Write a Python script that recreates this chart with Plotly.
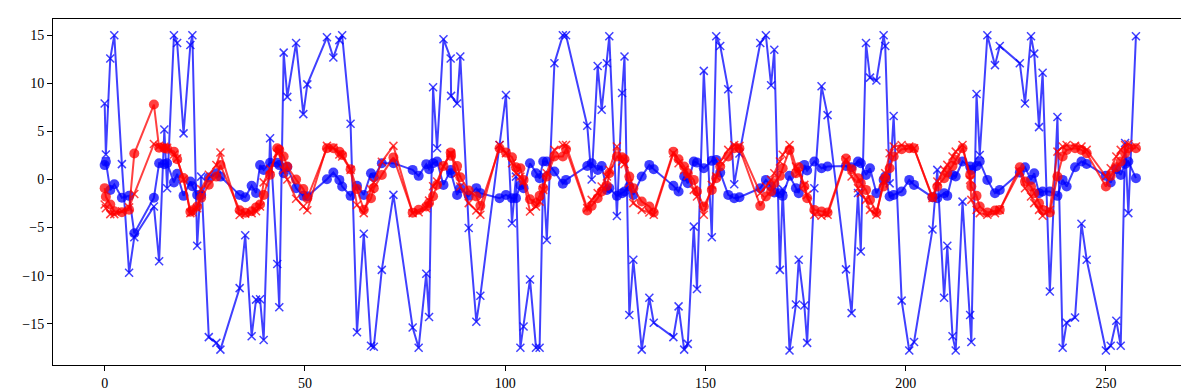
import plotly.graph_objects as go

x = [0.0, 0.3, 1.4, 2.4, 4.3, 6.1, 7.4, 12.3, 13.6, 14.9, 15.6, 17.3, 18.1, 19.7, 21.4, 21.9, 23.1, 24.1, 26.0, 27.9,
     28.9, 33.7, 35.1, 36.7, 37.8, 38.8, 39.7, 41.3, 43.1, 43.6, 44.7, 45.6, 47.8, 49.6, 50.6, 55.5, 57.1, 58.6, 59.3, 61.4,
     63.0, 64.7, 66.5, 67.2, 69.2, 72.1, 76.9, 78.4, 80.3, 81.0, 82.0, 83.0, 84.6, 86.4, 86.5, 88.0, 88.8, 90.9, 92.8, 93.8,
     98.6, 100.2, 101.7, 102.7, 103.8, 104.6, 106.2, 107.7, 108.6, 109.5, 110.4, 112.3, 114.4, 115.2, 120.5, 121.6, 123.1, 124.1, 125.4, 126.0,
     127.9, 129.2, 129.8, 131.0, 132.0, 134.1, 136.0, 137.1, 142.0, 143.3, 144.7, 145.6, 147.1, 147.9, 149.6, 151.6, 152.7, 153.7, 155.7, 157.2,
     158.5, 163.7, 165.1, 166.4, 167.2, 168.6, 169.3, 171.0, 172.6, 173.3, 174.7, 175.4, 177.2, 179.0, 180.5, 185.1, 186.5, 188.1, 188.8, 190.1,
     191.1, 192.7, 194.5, 194.9, 196.0, 197.0, 199.0, 200.9, 202.1, 206.7, 207.9, 209.6, 210.4, 211.7, 212.5, 214.2, 216.1, 216.4, 217.7, 218.5,
     220.4, 222.3, 223.5, 228.5, 229.8, 231.3, 232.1, 233.3, 234.2, 236.0, 237.9, 239.2, 240.2, 242.3, 243.9, 245.2, 250.0, 251.2, 252.6, 253.7,
     254.8, 255.6, 257.5]

blue_x = [7.9, 2.6, 12.6, 15.0, 1.6, -9.7, -6.0, -2.8, -8.5, 5.2, -0.9, 15.0, 14.2, 4.8, 14.0, 15.0, -6.9, 0.3, -16.4, -17.0,
          -17.7, -11.3, -5.8, -16.3, -12.5, -12.45, -16.7, 4.3, -8.8, -13.3, 13.2, 8.6, 14.2, 6.8, 9.9, 14.8, 12.7, 14.5, 15.0, 5.8,
          -15.9, -5.65, -17.3, -17.4, -9.4, -1.6, -15.4, -17.5, -9.8, -14.3, 9.6, 3.25, 14.6, 12.6, 8.7, 7.9, 12.8, -5.05, -14.8, -12.1,
          3.6, 8.8, -4.55, 0.3, -17.5, -15.3, -10.4, -17.5, -17.5, 0.5, -6.3, 12.1, 15.0, 15.0, 5.6, 0.0, 11.8, 7.25, 12.1, 14.9,
          -3.8, 9.0, 12.8, -14.1, -8.35, -17.7, -12.3, -14.9, -16.4, -13.2, -17.7, -17.1, -4.9, -11.4, 11.3, -6.0, 14.9, 13.9, 9.4, -0.5,
          2.7, 14.2, 15.0, 9.8, 13.5, -9.4, -1.0, -17.8, -13.0, -8.35, -13.1, -17.0, -0.9, 9.7, 6.7, -9.35, -13.9, -1.4, -7.5, 14.2,
          10.6, 10.3, 15.0, 13.9, -0.4, 6.6, -12.6, -17.8, -16.9, -5.2, 1.0, -12.3, -6.9, -16.3, -17.8, -2.3, -14.1, -16.9, 8.9, 2.55,
          15.0, 11.9, 13.9, 12.1, 7.9, 14.9, 13.1, 5.45, 11.1, -11.65, 6.5, -17.5, -14.9, -14.35, -4.6, -8.35, -17.8, -17.3, -14.7, -17.3,
          3.8, -3.5, 14.9]

blue_o = [1.5, 1.85, -1.1, -0.5, -1.9, -1.7, -5.6, -1.9, 1.7, 1.6, 1.7, -0.3, 0.6, -1.7, -0.2, -0.7, -1.6, -1.6, 0.2, 0.65,
          0.3, -1.6, -1.85, -0.65, -1.4, 1.5, 1.0, 1.75, 1.75, 1.5, 0.65, 1.3, -0.9, -1.7, -1.75, 0.03, 0.72, -0.04, -0.73, -1.7,
          -0.65, -1.6, 0.65, 0.24, 1.7, 1.7, 1.0, 0.38, 1.6, 1.07, 1.7, 1.87, -0.56, 1.0, 0.65, -1.6, -0.9, -1.7, -0.9, -1.42,
          -1.94, -1.6, -1.94, -1.94, -0.6, -0.9, 1.7, 0.65, 0.14, 1.87, 1.87, 0.83, -0.45, -0.04, 1.41, 1.7, 1.0, 1.41, -1.08, -0.9,
          -1.7, -1.42, -1.25, -0.73, -1.6, 0.31, 1.52, 1.07, -0.66, -1.25, 0.31, -0.38, 1.87, 1.76, 1.17, 1.94, 2.04, 0.72, -1.6, -1.94,
          -1.84, -0.9, -0.04, -0.73, -1.35, -1.42, -1.7, 0.38, -0.9, -1.42, 1.52, 0.93, 1.87, 1.17, 1.35, 1.41, 1.28, 1.87, 1.7, 0.48,
          1.17, -1.42, -0.04, 0.31, -1.77, -1.6, -1.25, -0.04, -0.56, -1.84, -1.94, -1.42, -1.7, 0.48, 0.31, 1.87, 1.35, 1.0, 1.41, 1.87,
          -0.04, -1.42, -1.08, 0.72, 1.28, -0.04, 0.65, -1.42, -1.25, -1.25, -1.7, -0.04, -0.73, 1.28, 1.87, 1.62, 0.38, -0.32, 1.07, 0.48,
          1.62, 1.87, 0.14]

red_o = [-0.9, -1.8, -2.6, -3.3, -3.4, -3.15, 2.7, 7.8, 3.3, 3.25, 3.2, 2.9, 2.1, 0.15, -3.35, -3.2, -2.8, -1.9, -0.55, 0.3,
         1.5, -3.2, -3.45, -3.3, -2.9, -2.6, -1.6, 0.5, 3.25, 3.1, 2.4, 1.35, 0.0, -1.0, -1.95, 3.25, 3.25, 2.9, 2.55, 1.07,
         -1.0, -3.15, -1.95, -0.9, 0.48, 2.3, -3.45, -3.15, -2.8, -2.45, -1.75, -0.55, 1.41, 2.8, 2.46, 1.41, 0.24, -1.15, -1.77, -2.74,
         3.25, 2.8, 2.32, 1.28, 1.17, -0.04, -2.05, -2.46, -1.7, -0.9, 0.31, 2.39, 2.39, 3.15, -3.22, -2.74, -1.94, -1.25, -0.66, 0.65,
         2.39, 2.32, 2.1, 0.31, -0.9, -2.29, -2.81, -3.43, 2.9, 2.11, 1.35, 0.65, -0.04, -1.25, -2.81, -1.08, 0.14, 1.35, 2.39, 3.25,
         3.25, -2.74, -1.77, -1.25, -0.38, 0.38, 1.17, 3.08, 0.65, 1.28, -0.73, -1.94, -3.16, -3.33, -3.43, 2.18, 1.07, 0.14, -0.38, -1.08,
         -2.12, -3.43, -0.73, 0.14, 1.17, 2.39, 3.15, 3.25, 3.25, -1.84, -0.73, 0.14, 0.72, 1.41, 2.04, 3.25, 0.48, -0.73, -1.7, -2.81,
         -3.43, -3.22, -3.16, 1.28, -0.21, -0.73, -1.42, -2.46, -3.16, -3.43, 0.31, 2.39, 3.08, 3.25, 3.08, 2.73, -0.73, 0.38, 1.28, 1.87,
         2.73, 3.25, 3.25]

red_x = [-2.6, -3.0, -3.6, -3.6, -3.3, -2.9, -1.5, 3.7, 3.5, 3.4, 3.3, 2.6, 2.2, 0.0, -3.5, -3.4, -3.0, -1.0, 0.5, 1.5,
         2.8, -3.7, -3.55, -3.5, -3.3, -2.8, -0.3, 1.1, 2.7, 2.9, 1.0, 0.0, -2.0, -2.8, -3.2, 3.5, 3.3, 2.6, 2.4, 1.0,
         -2.65, -3.5, -1.0, -0.3, 1.85, 3.5, -3.5, -3.4, -3.0, -2.2, -0.7, -0.2, 1.35, 2.74, 2.6, 0.65, -0.73, -2.46, -3.22, -3.67,
         3.6, 2.74, 1.7, 0.65, 0.3, -0.21, -3.33, -2.8, -2.3, -1.08, 0.65, 3.08, 3.6, 3.6, -2.98, -2.12, -1.42, -0.73, 0.31, 1.0,
         3.43, 1.87, 1.6, -0.38, -2.46, -3.16, -3.43, -3.67, 2.73, 1.7, 1.0, 0.38, -1.08, -1.77, -3.67, -0.56, 0.31, 1.87, 3.08, 3.6,
         3.5, -1.42, -0.73, -0.04, 0.65, 1.87, 2.57, 3.6, 1.35, 0.65, -0.56, -1.6, -3.67, -3.78, -3.67, 2.04, 0.31, -0.9, -1.42, -2.12,
         -3.16, -3.67, -0.21, 0.65, 2.73, 3.43, 3.6, 3.43, 3.25, -1.94, -0.21, 1.0, 1.52, 2.39, 2.9, 3.6, -0.04, -2.12, -3.16, -3.5,
         -3.67, -3.5, -3.16, 0.83, -0.9, -1.77, -2.46, -3.16, -3.78, -3.16, 2.9, 3.43, 3.6, 3.5, 3.43, 3.08, 0.31, 1.17, 2.39, 3.08,
         3.6, 3.7, 3.43]

x_ticks = [0, 50, 100, 150, 200, 250]
y_ticks = [-15, -10, -5, 0, 5, 10, 15]

BLUE = "rgba(0,0,255,0.75)"
RED = "rgba(255,0,0,0.75)"

fig = go.Figure()
fig.add_trace(go.Scatter(x=x, y=blue_x, mode="lines+markers",
                         line=dict(color=BLUE, width=2),
                         marker=dict(symbol="x-thin", size=8, line=dict(color=BLUE, width=1.5), color=BLUE)))
fig.add_trace(go.Scatter(x=x, y=blue_o, mode="lines+markers",
                         line=dict(color=BLUE, width=2),
                         marker=dict(symbol="circle", size=10, color=BLUE)))
fig.add_trace(go.Scatter(x=x, y=red_o, mode="lines+markers",
                         line=dict(color=RED, width=2),
                         marker=dict(symbol="circle", size=10, color=RED)))
fig.add_trace(go.Scatter(x=x, y=red_x, mode="lines+markers",
                         line=dict(color=RED, width=2),
                         marker=dict(symbol="x-thin", size=8, line=dict(color=RED, width=1.5), color=RED)))

axis_common = dict(showgrid=False, zeroline=False, showline=True, linecolor="black", linewidth=1,
                   mirror=True, ticks="outside", ticklen=5, tickwidth=1, tickcolor="black",
                   automargin=False,
                   tickfont=dict(family="Liberation Serif, DejaVu Serif, serif", size=14, color="black"))

fig.update_layout(
    width=1189, height=390,
    margin=dict(l=45, r=9, t=11, b=33),
    paper_bgcolor="white", plot_bgcolor="white",
    showlegend=False,
    xaxis=dict(range=[-12.9, 270.5], tickvals=x_ticks, **axis_common),
    yaxis=dict(range=[-19.3, 16.7], tickvals=y_ticks, **axis_common),
)

fig.write_html("out.html")
